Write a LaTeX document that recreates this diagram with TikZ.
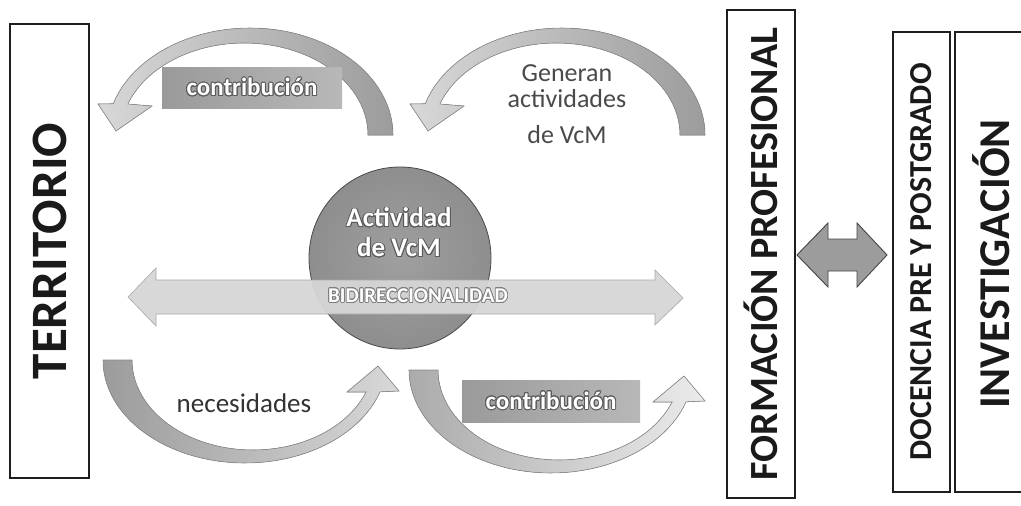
\documentclass[tikz,border=0pt]{standalone}
\usepackage{fontspec}
\setmainfont{Carlito}
\usepackage[copies]{contour}
\contourlength{0.9pt}
\definecolor{boxline}{HTML}{1E1E1E}
\definecolor{boxtext}{HTML}{1A1A1A}
\definecolor{arcdark}{HTML}{9C9C9C}
\definecolor{arclight}{HTML}{D8D8D8}
\definecolor{arcdarkb}{HTML}{ABABAB}
\definecolor{arclightb}{HTML}{EBEBEB}
\definecolor{arcedge}{HTML}{8A8A8A}
\definecolor{labdark}{HTML}{9A9A9A}
\definecolor{lablight}{HTML}{B8B8B8}
\definecolor{outl}{HTML}{5A5A5A}
\definecolor{circfill}{HTML}{8E8E8E}
\definecolor{circedge}{HTML}{4A4A4A}
\definecolor{bandfill}{HTML}{D6D6D6}
\definecolor{bandedge}{HTML}{A8A8A8}
\definecolor{dafill}{HTML}{9C9C9C}
\definecolor{daedge}{HTML}{454545}
\definecolor{plaintext}{HTML}{4A4A4A}
\definecolor{neccol}{HTML}{333333}
\begin{document}
\begin{tikzpicture}[x=1pt,y=-1pt,
  colbox/.style={draw=boxline, line width=1.6pt, rotate=90, inner sep=0pt,
     text=boxtext, font=\bfseries},
  arcarrow/.style={draw=arcedge, line width=0.6pt},
  lab/.style={rectangle, inner sep=0pt, left color=labdark, right color=lablight,
     font=\bfseries\fontsize{25}{30}\selectfont, text=white},
  plain/.style={inner sep=0pt, align=center}
]
\useasboundingbox (0,0) rectangle (1021,506);
\fill[white] (0,0) rectangle (1021,506);

% ---- column boxes
\node[colbox, minimum width=454pt, minimum height=79pt,
      font=\bfseries\fontsize{51}{60}\selectfont] (terr) at (49.5,251) {TERRITORIO};
\node[colbox, minimum width=488pt, minimum height=68pt,
      font=\bfseries\fontsize{40}{48}\selectfont] (form) at (761,254) {FORMACIÓN PROFESIONAL};
\node[colbox, minimum width=460pt, minimum height=57pt,
      font=\bfseries\fontsize{32}{38}\selectfont] (doc) at (921.5,262) {DOCENCIA PRE Y POSTGRADO};
\node[colbox, draw=none, font=\bfseries\fontsize{44}{52}\selectfont] (inv) at (991,264) {INVESTIGACIÓN};
\draw[draw=boxline, line width=1.6pt] (1023,32) -- (955,32) -- (955,492) -- (1023,492);

% ---- double arrow between FORMACION and DOCENCIA
\coordinate (da) at (842,255);
\draw[fill=dafill, draw=daedge, line width=0.9pt, shift={(842,255)}]
  (-45,0) -- (-14,-32) -- (-14,-16) -- (15,-16) -- (15,-32) -- (45,0)
  -- (15,32) -- (15,16) -- (-14,16) -- (-14,32) -- cycle;

% ---- top-left curved arrow (contribucion)
\filldraw[arcarrow, left color=arclight, right color=arcdark]
  (393,135) -- plot[domain=0:163, samples=50, variable=\t] ({250+143*cos(\t)},{135-107*sin(\t)})
  -- (98,104) -- (116,131) -- (152,106) -- (128,104)
  -- plot[domain=160.3:0, samples=50, variable=\t] ({244.3+123.7*cos(\t)},{135-92*sin(\t)})
  -- cycle;

% ---- top-right curved arrow (Generan actividades)
\begin{scope}[shift={(312,0)}]
\filldraw[arcarrow, left color=arclight, right color=arcdark]
  (393,135) -- plot[domain=0:163, samples=50, variable=\t] ({250+143*cos(\t)},{135-107*sin(\t)})
  -- (98,104) -- (116,131) -- (152,106) -- (128,104)
  -- plot[domain=160.3:0, samples=50, variable=\t] ({244.3+123.7*cos(\t)},{135-92*sin(\t)})
  -- cycle;
\end{scope}

% ---- bottom-left curved arrow (necesidades)
\filldraw[arcarrow, left color=arcdark, right color=arclight]
  (103,360) -- plot[domain=180:18, samples=50, variable=\t] ({245+142*cos(\t)},{360+103*sin(\t)})
  -- (399,391) -- (378,366) -- (347,392) -- (366,392)
  -- plot[domain=20.8:180, samples=50, variable=\t] ({253+121*cos(\t)},{360+90*sin(\t)})
  -- cycle;

% ---- bottom-right curved arrow (contribucion)
\begin{scope}[shift={(306,10)}]
\filldraw[arcarrow, left color=arcdarkb, right color=arclightb]
  (103,360) -- plot[domain=180:18, samples=50, variable=\t] ({245+142*cos(\t)},{360+103*sin(\t)})
  -- (399,391) -- (378,366) -- (347,392) -- (366,392)
  -- plot[domain=20.8:180, samples=50, variable=\t] ({253+121*cos(\t)},{360+90*sin(\t)})
  -- cycle;
\end{scope}

% ---- labels
\node[lab, minimum width=180pt, minimum height=41pt] (c1) at (252,87.5) {\contour{outl}{contribución}};
\node[lab, minimum width=178pt, minimum height=42pt] (c2) at (551,401) {\contour{outl}{contribución}};

\node[plain, anchor=north, text=plaintext, font=\fontsize{26}{27}\selectfont] (gen) at (567,64)
  {Generan\\[-1pt]actividades\\[9pt]de VcM};
\node[plain, text=neccol, font=\fontsize{27}{30}\selectfont] (nec) at (244,403) {necesidades};

% ---- central circle
\node[circle, minimum size=182pt, inner sep=0pt, draw=circedge, line width=0.8pt,
      inner color=circfill!85!white, outer color=circfill] (act) at (400,258) {};
\node[plain, text=white, font=\bfseries\fontsize{27}{30}\selectfont] (acttxt) at (399,233)
  {\contour{outl}{Actividad}\\\contour{outl}{de VcM}};

% ---- bidirectional band arrow
\filldraw[fill=bandfill, draw=bandedge, line width=0.6pt, fill opacity=0.95]
  (128,297) -- (156,268) -- (156,280) -- (655,280) -- (655,270) -- (683,298)
  -- (655,325) -- (655,314) -- (156,314) -- (156,326) -- cycle;
\node[plain, text=white, font=\bfseries\fontsize{21}{24}\selectfont] (bidir) at (418,296)
  {\contourlength{0.7pt}\contour{bandedge!75!black}{BIDIRECCIONALIDAD}};
\end{tikzpicture}
\end{document}
